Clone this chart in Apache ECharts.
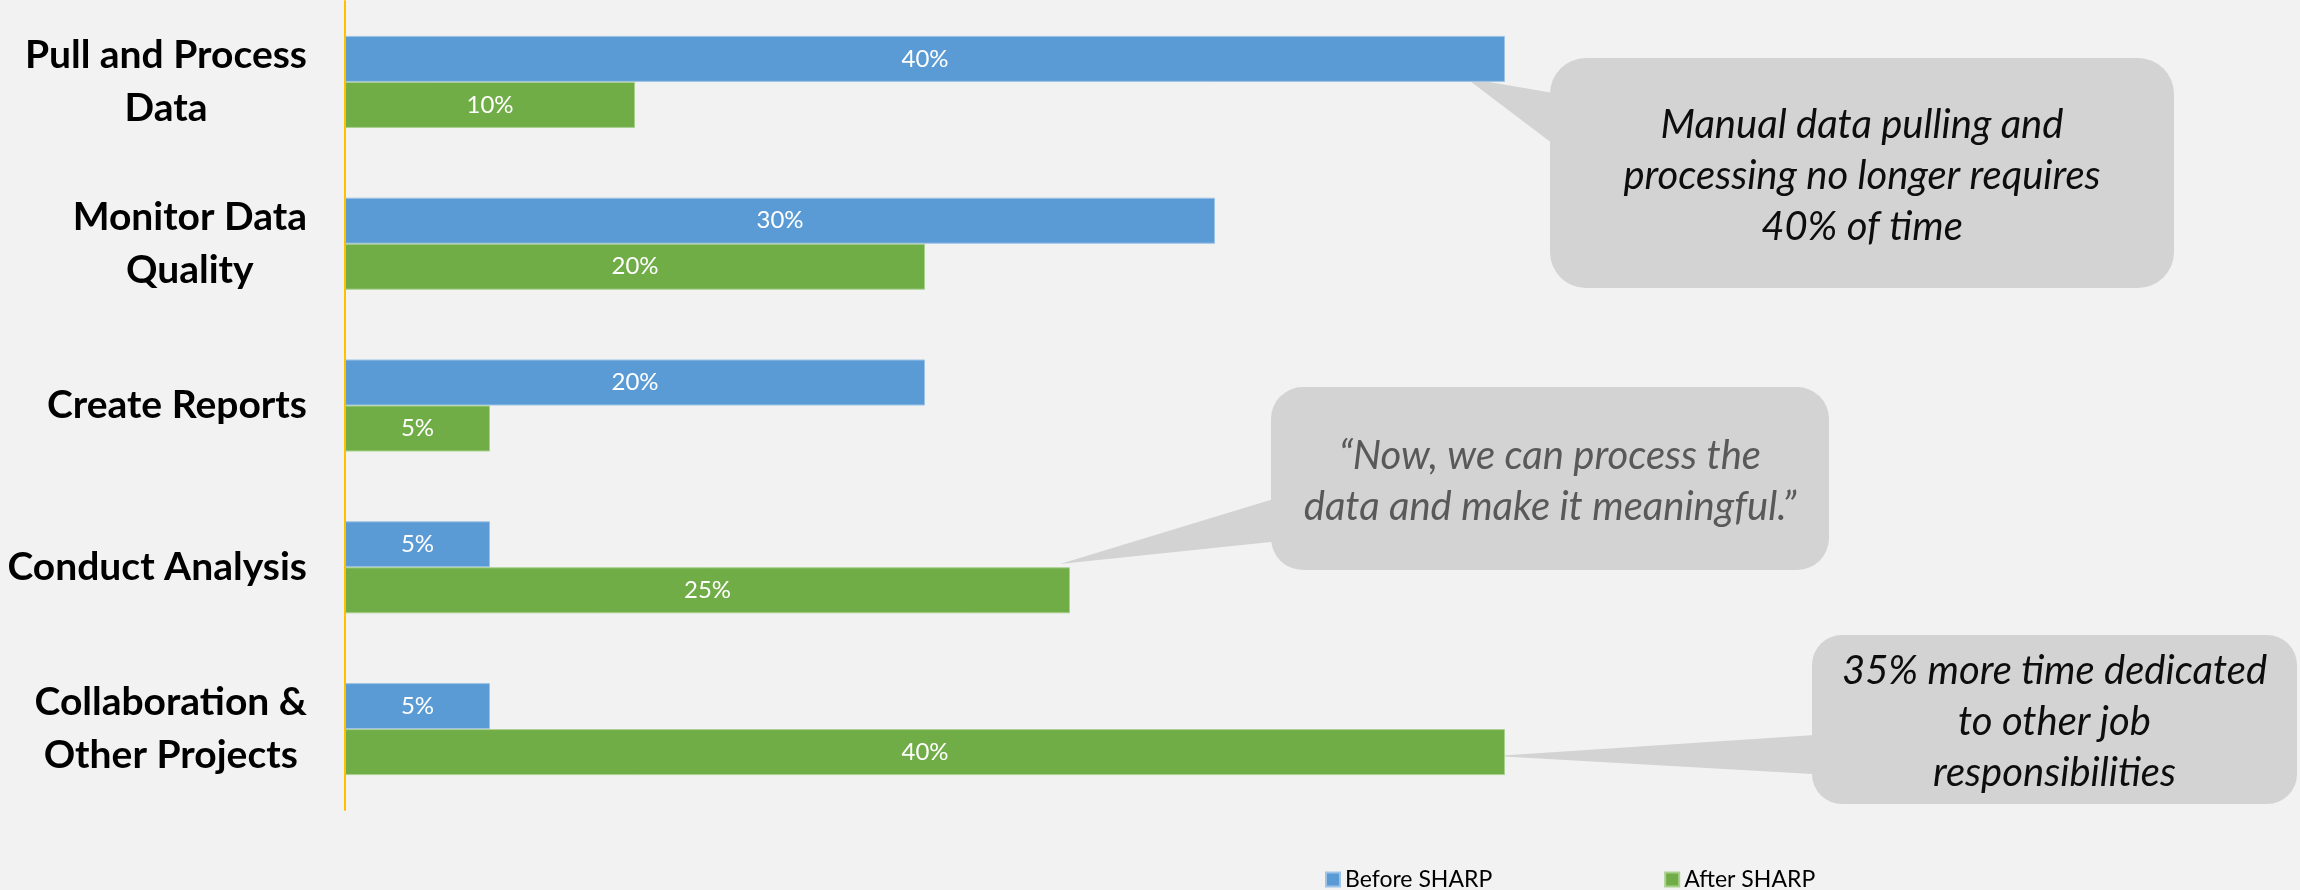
<!DOCTYPE html>
<html>
<head>
<meta charset="utf-8">
<title>Before / After SHARP</title>
<script src="https://cdn.jsdelivr.net/npm/echarts@6/dist/echarts.min.js"></script>
<style>
  html, body { margin: 0; padding: 0; background: #f2f2f2; }
  #chart { width: 2300px; height: 890px; }
</style>
</head>
<body>
<div id="chart"></div>
<script>
  // data (percent of time)
  const categories = ['Pull and Process\nData', 'Monitor Data\nQuality', 'Create Reports', 'Conduct Analysis', 'Collaboration &\nOther Projects']
  const seriesNames = ['Before SHARP', 'After SHARP']
  const beforeValues = [40, 30, 20, 5, 5]
  const afterValues = [10, 20, 5, 25, 40]

  const calloutTexts = [
    'Manual data pulling and\nprocessing no longer requires\n40% of time',
    '\u201cNow, we can process the\ndata and make it meaningful.\u201d',
    '35% more time dedicated\nto other job\nresponsibilities'
  ]

  const chart = echarts.init(document.getElementById('chart'))

  const blue = '#5b9bd5'
  const green = '#70ad47'
  const bubble = '#d3d3d3'

  // speech bubble: rounded box + tail pointing at a bar end
  function callout(box, r, tail, text, color) {
    return {
      type: 'group',
      children: [
        {
          type: 'polygon',
          shape: {points: tail},
          style: {fill: bubble}
        },
        {
          type: 'rect',
          shape: {x: box[0], y: box[1], width: box[2], height: box[3], r: r},
          style: {fill: bubble}
        },
        {
          type: 'text',
          x: box[0] + box[2] / 2,
          y: box[1] + box[3] / 2 + 3,
          style: {
            text: text,
            fill: color,
            font: 'italic 40px Lato',
            lineHeight: 51,
            align: 'center',
            verticalAlign: 'middle'
          }
        }
      ]
    }
  }

  let option = {
    backgroundColor: '#f2f2f2',
    animation: false,
    grid: {
      left: 345,
      right: 215,
      top: 1,
      bottom: 80
    },
    legend: {
      data: seriesNames,
      left: 1320,
      top: 863,
      itemWidth: 14,
      itemHeight: 14,
      itemGap: 172,
      icon: 'rect',
      textStyle: {fontFamily: 'Lato', fontSize: 23, color: '#000'}
    },
    xAxis: {
      type: 'value',
      min: 0,
      max: 60,
      show: false
    },
    yAxis: {
      type: 'category',
      inverse: true,
      data: categories,
      axisTick: {show: false},
      axisLine: {lineStyle: {color: '#ffc000', width: 2}},
      axisLabel: {
        margin: 38,
        formatter: function (v) {
          return v.split('\n').map(s => '{c|' + s + '}').join('\n')
        },
        rich: {
          c: {
            align: 'center',
            fontFamily: 'Lato',
            fontWeight: 'bold',
            fontSize: 39,
            lineHeight: 53,
            color: '#000'
          }
        }
      }
    },
    series: [
      {
        name: seriesNames[0],
        type: 'bar',
        data: beforeValues,
        barWidth: 46,
        barGap: '0%',
        itemStyle: {color: blue, borderColor: '#9dc3e6', borderWidth: 1},
        label: {
          show: true,
          position: 'inside',
          formatter: '{c}%',
          color: '#fff',
          fontFamily: 'Lato',
          fontSize: 24
        }
      },
      {
        name: seriesNames[1],
        type: 'bar',
        data: afterValues,
        barWidth: 46,
        barGap: '0%',
        itemStyle: {color: green, borderColor: '#a9d18e', borderWidth: 1},
        label: {
          show: true,
          position: 'inside',
          formatter: '{c}%',
          color: '#fff',
          fontFamily: 'Lato',
          fontSize: 24
        }
      }
    ],
    graphic: [
      callout([1550, 58, 624, 230], 36, [[1466, 78], [1565, 95], [1565, 153]], calloutTexts[0], '#0d0d0d'),
      callout([1271, 387, 558, 183], 32, [[1060, 564], [1290, 494], [1290, 540]], calloutTexts[1], '#595959'),
      callout([1812, 635, 485, 169], 30, [[1495, 756], [1830, 734], [1830, 775]], calloutTexts[2], '#0d0d0d')
    ]
  }

  chart.setOption(option)
</script>
</body>
</html>
